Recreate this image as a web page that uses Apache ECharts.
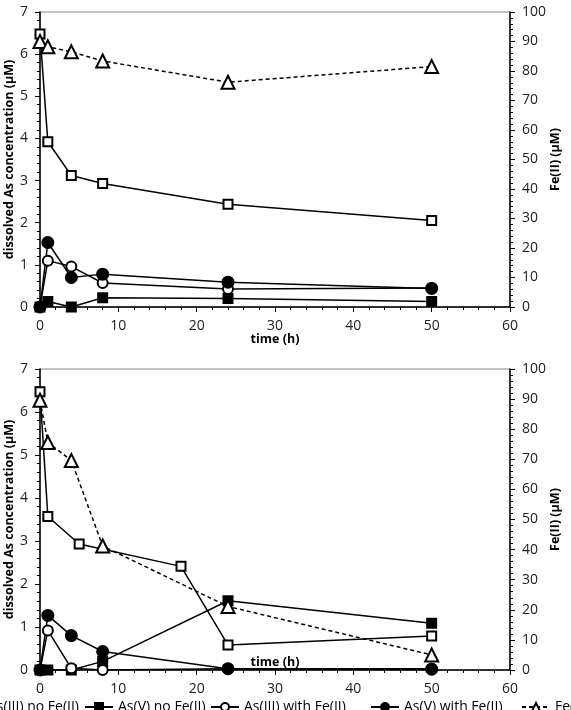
<!DOCTYPE html>
<html><head><meta charset="utf-8">
<script src="https://cdn.jsdelivr.net/npm/echarts@6/dist/echarts.min.js"></script>
<style>html,body{margin:0;padding:0;background:#fff}#c{width:571px;height:710px}</style>
</head><body><div id="c"></div>
<script>
// ---- data ----
const names = ['As(III) no Fe(II)', 'As(V) no Fe(II)', 'As(III) with Fe(II)', 'As(V) with Fe(II)', 'Fe(II)'];
const xTicks = [0, 10, 20, 30, 40, 50, 60];
// top panel
const tTop = [0, 1, 4, 8, 24, 50];
const asIIInoFeTop = [6.48, 3.92, 3.12, 2.93, 2.44, 2.05];
const asVnoFeTop   = [0, 0.13, 0, 0.22, 0.20, 0.13];
const asIIIFeTop   = [0, 1.10, 0.96, 0.57, 0.43, 0.45];
const asVFeTop     = [0, 1.53, 0.70, 0.78, 0.59, 0.44];
const feTop        = [90, 88.2, 86.5, 83.4, 76.2, 81.5];
// bottom panel
const tBotSq = [0, 1, 5, 18, 24, 50];
const tBot = [0, 1, 4, 8, 24, 50];
const asIIInoFeBot = [6.47, 3.57, 2.93, 2.41, 0.58, 0.79];
const asVnoFeBot   = [0, 0, 0, 0.20, 1.61, 1.09];
const asIIIFeBot   = [0, 0.92, 0.04, 0, 0.03, 0.03];
const asVFeBot     = [0, 1.27, 0.80, 0.43, 0.03, 0.02];
const feBot        = [89.6, 75.6, 69.6, 41.2, 21.1, 5.0];

const zip = (t, v) => t.map((x, i) => [x, v[i]]);
const FONT = 'Open Sans';

const styles = [
  {symbol: 'rect', size: 9, fill: '#fff', dashed: false},
  {symbol: 'rect', size: 9, fill: '#000', dashed: false},
  {symbol: 'circle', size: 10, fill: '#fff', dashed: false},
  {symbol: 'circle', size: 11, fill: '#000', dashed: false},
  {symbol: 'triangle', size: 13, fill: '#fff', dashed: true}
];

function mkSeries(idx, data, xi, yi) {
  const s = styles[idx];
  return {
    type: 'line', name: names[idx], xAxisIndex: xi, yAxisIndex: yi, data: data,
    symbol: s.symbol, symbolSize: s.size, showAllSymbol: true, animation: false,
    lineStyle: {color: '#000', width: 1.5, type: s.dashed ? [4, 3] : 'solid'},
    itemStyle: {color: s.fill, borderColor: '#000', borderWidth: 2},
    emphasis: {disabled: true}
  };
}

function xAx(gi, nameGap) {
  return {
    type: 'value', gridIndex: gi, min: 0, max: 60, interval: 10,
    name: 'time (h)', nameLocation: 'middle', nameGap: nameGap, nameMoveOverlap: false,
    nameTextStyle: {fontFamily: FONT, fontSize: 12.5, fontWeight: 'bold', color: '#000', verticalAlign: 'top'},
    axisLine: {onZero: false, lineStyle: {color: '#000', width: 1.5}},
    axisTick: {show: true, inside: false, length: 5, lineStyle: {color: '#000'}},
    minorTick: {show: true, splitNumber: 5, length: 3, lineStyle: {color: '#000'}},
    splitLine: {show: false},
    axisLabel: {fontFamily: FONT, fontSize: 14, color: '#222', margin: 12,
      formatter: v => xTicks.includes(v) ? String(v) : ''}
  };
}
function yLeft(gi) {
  return {
    type: 'value', gridIndex: gi, min: 0, max: 7, interval: 1, position: 'left',
    name: 'dissolved As concentration (\u03bcM)', nameLocation: 'middle', nameGap: 24, nameRotate: 90,
    nameMoveOverlap: false,
    nameTextStyle: {fontFamily: FONT, fontSize: 12.5, fontWeight: 'bold', color: '#000'},
    axisLine: {show: true, onZero: false, lineStyle: {color: '#000', width: 1.5}},
    axisTick: {show: true, length: 5, lineStyle: {color: '#000'}},
    minorTick: {show: true, splitNumber: 5, length: 3, lineStyle: {color: '#000'}},
    splitLine: {show: false},
    axisLabel: {fontFamily: FONT, fontSize: 14, color: '#222', margin: 12}
  };
}
function yRight(gi) {
  return {
    type: 'value', gridIndex: gi, min: 0, max: 100, interval: 10, position: 'right',
    name: 'Fe(II) (\u03bcM)', nameLocation: 'middle', nameGap: 39, nameRotate: 90,
    nameMoveOverlap: false,
    nameTextStyle: {fontFamily: FONT, fontSize: 12.5, fontWeight: 'bold', color: '#000'},
    axisLine: {show: true, onZero: false, lineStyle: {color: '#000', width: 1.5}},
    axisTick: {show: true, length: 5, lineStyle: {color: '#000'}},
    minorTick: {show: true, splitNumber: 5, length: 3, lineStyle: {color: '#000'}},
    splitLine: {show: false},
    axisLabel: {fontFamily: FONT, fontSize: 14, color: '#222', margin: 12}
  };
}

const legendLefts = [-46, 84, 210, 370, 521];
const legends = names.map((n, i) => ({
  data: [n], left: legendLefts[i], top: 700, orient: 'horizontal', padding: 0,
  itemWidth: 28, itemHeight: 10, selectedMode: false,
  textStyle: {fontFamily: FONT, fontSize: 14, color: '#000'}
}));

const chart = echarts.init(document.getElementById('c'), null, {renderer: 'canvas'});
chart.setOption({
  animation: false,
  backgroundColor: '#fff',
  grid: [
    {left: 40, width: 470, top: 12, height: 295, show: true, borderColor: '#888', borderWidth: 1,
     containLabel: false, outerBoundsMode: 'none'},
    {left: 40, width: 470, top: 369, height: 301, show: true, borderColor: '#888', borderWidth: 1,
     containLabel: false, outerBoundsMode: 'none'}
  ],
  xAxis: [xAx(0, 26), xAx(1, -14)],
  yAxis: [yLeft(0), yRight(0), yLeft(1), yRight(1)],
  legend: legends,
  series: [
    mkSeries(0, zip(tTop, asIIInoFeTop), 0, 0),
    mkSeries(1, zip(tTop, asVnoFeTop), 0, 0),
    mkSeries(2, zip(tTop, asIIIFeTop), 0, 0),
    mkSeries(3, zip(tTop, asVFeTop), 0, 0),
    mkSeries(4, zip(tTop, feTop), 0, 1),
    mkSeries(0, zip(tBotSq, asIIInoFeBot), 1, 2),
    mkSeries(1, zip(tBot, asVnoFeBot), 1, 2),
    mkSeries(2, zip(tBot, asIIIFeBot), 1, 2),
    mkSeries(3, zip(tBot, asVFeBot), 1, 2),
    mkSeries(4, zip(tBot, feBot), 1, 3)
  ]
});
</script></body></html>
